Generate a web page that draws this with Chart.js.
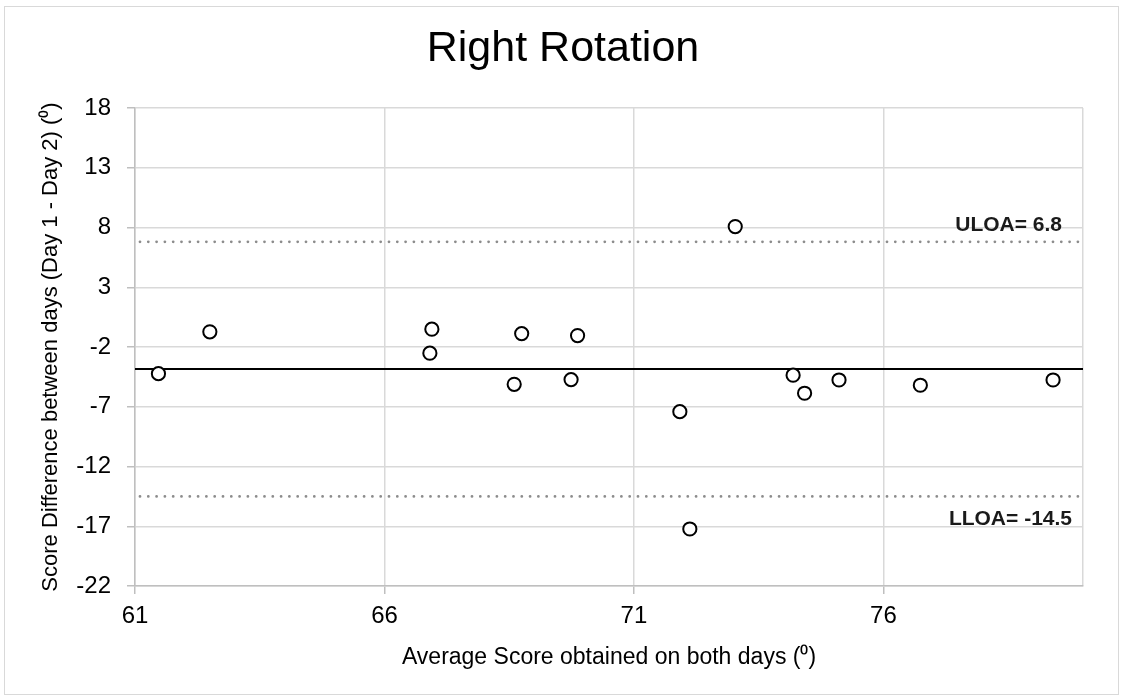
<!DOCTYPE html>
<html>
<head>
<meta charset="utf-8">
<title>Right Rotation</title>
<script src="https://cdn.jsdelivr.net/npm/chart.js@4.4.1/dist/chart.umd.min.js"></script>
<style>
  html, body { margin: 0; padding: 0; background: #ffffff; }
  canvas { display: block; }
</style>
</head>
<body>
<canvas id="chart" width="1123" height="700"></canvas>
<script>
// Bland-Altman data: mean of both days vs. day 1 - day 2 difference
const avgScore = [61.47, 62.50, 66.95, 66.91, 68.60, 68.75, 69.74, 69.87, 71.92, 72.12, 73.03, 74.19, 74.42, 75.11, 76.74, 79.40];
const dayDiff  = [-4.23, -0.73, -0.51, -2.52, -5.12, -0.88, -4.73, -1.04, -7.41, -17.23, 8.08, -4.36, -5.87, -4.76, -5.20, -4.76];

// Agreement statistics
const bias = -3.85;
const uloa = 6.8;
const lloa = -14.5;

// Axis ticks
const xTicks = [61, 66, 71, 76, 80];
const yTicks = [-22, -17, -12, -7, -2, 3, 8, 13, 18];

const chartTitle = 'Right Rotation';
const FONT = "'Liberation Sans', Arial, Helvetica, sans-serif";
Chart.defaults.font.family = FONT;

const xMin = xTicks[0], xMax = xTicks[xTicks.length - 1];

const framePlugin = {
  id: 'frameAndLimits',
  beforeDraw(chart) {
    const ctx = chart.ctx;
    ctx.save();
    ctx.fillStyle = '#ffffff';
    ctx.fillRect(0, 0, chart.width, chart.height);
    ctx.strokeStyle = '#d9d9d9';
    ctx.lineWidth = 1;
    ctx.strokeRect(4.5, 6.5, 1114, 688);
    // chart title, centred over the frame
    ctx.fillStyle = '#000000';
    ctx.font = "43px " + FONT;
    ctx.textAlign = 'center';
    ctx.textBaseline = 'middle';
    ctx.fillText(chartTitle, 563, 49);
    ctx.restore();
  },
  afterDatasetsDraw(chart) {
    const ctx = chart.ctx;
    const area = chart.chartArea;
    const ys = chart.scales.y;
    ctx.save();
    ctx.font = "bold 21px " + FONT;
    ctx.fillStyle = '#1a1a1a';
    ctx.textAlign = 'right';
    ctx.textBaseline = 'middle';
    ctx.fillText('ULOA= ' + uloa, area.right - 21, ys.getPixelForValue(uloa) - 17);
    ctx.fillText('LLOA= ' + lloa, area.right - 11, ys.getPixelForValue(lloa) + 23);
    ctx.restore();
  }
};

new Chart(document.getElementById('chart'), {
  type: 'scatter',
  data: {
    datasets: [
      {
        label: 'Differences',
        data: avgScore.map((x, i) => ({ x: x, y: dayDiff[i] })),
        backgroundColor: '#ffffff',
        borderColor: '#000000',
        borderWidth: 2,
        pointRadius: 6.6,
        pointHoverRadius: 6.6,
        showLine: false,
        order: 0
      },
      {
        type: 'line',
        label: 'Mean difference',
        data: [{ x: xMin, y: bias }, { x: xMax, y: bias }],
        borderColor: '#000000',
        borderWidth: 2,
        pointRadius: 0,
        fill: false,
        order: 1
      },
      {
        type: 'line',
        label: 'ULOA',
        data: [{ x: xMin + 0.1, y: uloa }, { x: xMax, y: uloa }],
        borderColor: '#8c8c8c',
        borderWidth: 2.8,
        borderDash: [0, 8.3],
        borderCapStyle: 'round',
        pointRadius: 0,
        fill: false,
        order: 2
      },
      {
        type: 'line',
        label: 'LLOA',
        data: [{ x: xMin + 0.1, y: lloa }, { x: xMax, y: lloa }],
        borderColor: '#8c8c8c',
        borderWidth: 2.8,
        borderDash: [0, 8.3],
        borderCapStyle: 'round',
        pointRadius: 0,
        fill: false,
        order: 3
      }
    ]
  },
  options: {
    responsive: false,
    animation: false,
    devicePixelRatio: 1,
    layout: { padding: { top: 108, right: 40, bottom: 0, left: 0 } },
    plugins: {
      legend: { display: false },
      tooltip: { enabled: false },
      title: { display: false }
    },
    scales: {
      x: {
        type: 'linear',
        min: xMin,
        max: xMax,
        afterBuildTicks: s => { s.ticks = xTicks.map(v => ({ value: v })); },
        afterFit: s => { s.height = 114; },
        ticks: {
          color: '#000000',
          font: { size: 24 },
          padding: 8,
          maxRotation: 0,
          callback: v => (v === xMax ? '' : v)
        },
        grid: {
          color: '#d9d9d9',
          lineWidth: 1.5,
          tickLength: 8,
          tickColor: c => (c.tick && c.tick.value === xMax ? 'rgba(0,0,0,0)' : '#bfbfbf')
        },
        border: { color: '#bfbfbf', width: 1.5 },
        title: {
          display: true,
          text: 'Average Score obtained on both days (\u2070)',
          color: '#000000',
          font: { size: 23 },
          padding: { top: 0, bottom: 29 }
        }
      },
      y: {
        type: 'linear',
        min: yTicks[0],
        max: yTicks[yTicks.length - 1],
        afterBuildTicks: s => { s.ticks = yTicks.map(v => ({ value: v })); },
        afterFit: s => { s.width = 135; },
        ticks: {
          color: '#000000',
          font: { size: 24 },
          padding: 16
        },
        grid: {
          color: '#d9d9d9',
          lineWidth: 1.5,
          tickLength: 8,
          tickColor: '#bfbfbf'
        },
        border: { color: '#bfbfbf', width: 1.5 },
        title: {
          display: true,
          text: 'Score Difference between days (Day 1 - Day 2) (\u2070)',
          color: '#000000',
          font: { size: 22 },
          padding: { top: 38, bottom: 0 }
        }
      }
    }
  },
  plugins: [framePlugin]
});
</script>
</body>
</html>
